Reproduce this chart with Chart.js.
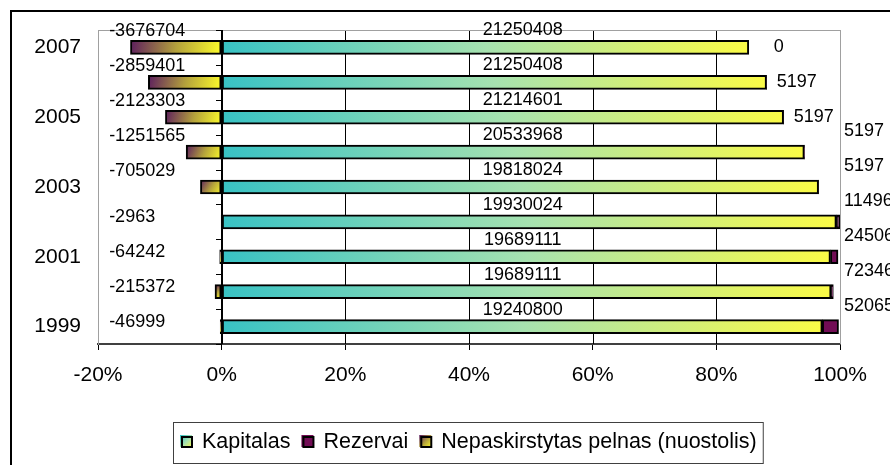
<!DOCTYPE html>
<html>
<head>
<meta charset="utf-8">
<script src="https://cdn.jsdelivr.net/npm/chart.js@4.4.1/dist/chart.umd.min.js"></script>
<style>
  html, body { margin: 0; padding: 0; background: #fff; }
  #grafico_local { width: 890px; height: 465px; position: relative; }
</style>
</head>
<body>
<div id="grafico_local"><canvas id="grafico_balansas"></canvas></div>
<script>
// dados do gráfico
const metai = ['1999', '2000', '2001', '2002', '2003', '2004', '2005', '2006', '2007']
const kapitalas = [19240800, 19689111, 19689111, 19930024, 19818024, 20533968, 21214601, 21250408, 21250408]
const rezervai = [520657, 72346, 245062, 114965, 5197, 5197, 5197, 5197, 0]
const pelnas = [-46999, -215372, -64242, -2963, -705029, -1251565, -2123303, -2859401, -3676704]
const serijos = ['Kapitalas', 'Rezervai', 'Nepaskirstytas pelnas (nuostolis)']
const escalaX = { min: -20, max: 100, passo: 20 }

// 100% empilhado (como no excel: soma dos valores absolutos)
const somas = metai.map((m, i) => Math.abs(kapitalas[i]) + Math.abs(rezervai[i]) + Math.abs(pelnas[i]))
const porcento = arr => arr.map((v, i) => v / somas[i] * 100)
const kapitalasPct = porcento(kapitalas)
const rezervaiPct = porcento(rezervai)
const pelnasPct = porcento(pelnas)

const fonte = "'Liberation Sans', Arial, sans-serif"
const coresKapitalas = ['#38c2c4', '#a6e2b0', '#fbfb46']
const coresPelnas = ['#5c1d5e', '#b4a23c', '#ffff2a']
const corRezervai = '#720c55'
const espessura = 14

function gradienteBarra(ctx, cores, fallback) {
    const chart = ctx.chart
    if (ctx.type !== 'data' || !chart.chartArea || !chart.scales.x) return fallback
    const x = chart.scales.x
    const y = chart.scales.y
    const xa = x.getPixelForValue(0)
    const xb = x.getPixelForValue(ctx.raw)
    const yc = y.getPixelForValue(ctx.dataIndex)
    const esq = Math.min(xa, xb), dir = Math.max(xa, xb)
    const g = chart.ctx.createLinearGradient(esq, yc - 7, dir + 1, yc + 7)
    g.addColorStop(0, cores[0])
    g.addColorStop(0.5, cores[1])
    g.addColorStop(1, cores[2])
    return g
}

// grade vertical em pedaços, pulando onde há barra (fica "atrás" das barras)
function desenharGrade(chart) {
    const { ctx, chartArea } = chart
    const x = chart.scales.x
    const y = chart.scales.y
    const topo = Math.round(chartArea.top)
    const fundo = Math.round(chartArea.bottom)
    x.ticks.forEach(t => {
        const v = t.value
        if (v === 0) return
        const px = Math.round(x.getPixelForValue(v))
        const cinza = v === escalaX.min || v === escalaX.max
        ctx.fillStyle = cinza ? '#a0a0a0' : '#000000'
        const pulos = []
        if (!cinza) {
            metai.forEach((m, i) => {
                const lo = pelnasPct[i]
                const hi = kapitalasPct[i] + rezervaiPct[i]
                if (v >= lo && v <= hi) {
                    const yc = y.getPixelForValue(i)
                    pulos.push([Math.round(yc - espessura / 2), Math.round(yc + espessura / 2)])
                }
            })
        }
        pulos.sort((a, b) => a[0] - b[0])
        let inicio = topo
        pulos.forEach(p => {
            if (p[0] > inicio) ctx.fillRect(px, inicio, 1, p[0] - inicio)
            inicio = Math.max(inicio, p[1])
        })
        if (fundo > inicio) ctx.fillRect(px, inicio, 1, fundo - inicio)
    })
    ctx.fillStyle = '#a0a0a0'
    ctx.fillRect(Math.round(chartArea.left), topo, Math.round(chartArea.width) + 1, 1)
}

// rótulos, linha do zero, moldura e legenda
const desenhosExtras = {
    id: 'desenhosExtras',
    afterDraw(chart) {
        const { ctx, chartArea } = chart
        const x = chart.scales.x
        const y = chart.scales.y
        ctx.save()
        desenharGrade(chart)
        const x0 = Math.round(x.getPixelForValue(0))
        // linha do zero com marcas
        ctx.fillStyle = '#000'
        ctx.fillRect(x0 - 1, Math.round(chartArea.top), 2, Math.round(chartArea.height))
        for (let k = 0; k <= metai.length; k++) {
            const yy = Math.round(y.getPixelForValue(k - 0.5))
            ctx.fillRect(x0 - 6, yy, 6, 1)
        }
        // valores
        ctx.font = '18px ' + fonte
        ctx.textBaseline = 'middle'
        for (let i = 0; i < metai.length; i++) {
            const yc = y.getPixelForValue(i)
            ctx.textAlign = 'center'
            ctx.fillText(String(kapitalas[i]), x.getPixelForValue(48.7), yc - 17)
            ctx.textAlign = 'left'
            ctx.fillText(String(pelnas[i]), x.getPixelForValue(-18.2), Math.abs(pelnasPct[i]) > 2 ? yc - 16 : yc - 5)
            const txt = String(rezervai[i])
            const fim = x.getPixelForValue(kapitalasPct[i] + rezervaiPct[i])
            const w = ctx.measureText(txt).width
            if (fim + 30 + w / 2 < chartArea.right) {
                ctx.textAlign = 'center'
                ctx.fillText(txt, fim + 30, yc)
            } else {
                ctx.textAlign = 'left'
                ctx.fillText(txt, chartArea.right + 4, yc - 21)
            }
        }
        // moldura externa
        ctx.fillStyle = '#000'
        ctx.fillRect(10, 10, 2, chart.height)
        ctx.fillRect(10, 10, chart.width, 2)
        // legenda
        ctx.font = '21.5px ' + fonte
        ctx.textBaseline = 'middle'
        ctx.textAlign = 'left'
        const caixa = 12, gap = 10, entre = 11
        const larguras = serijos.map(s => ctx.measureText(s).width)
        let total = 0
        larguras.forEach(w => { total += caixa + gap + w })
        total += entre * (serijos.length - 1)
        const cx = (chartArea.left + chartArea.right) / 2 - 1
        const ly = 442
        let lx = Math.round(cx - total / 2)
        ctx.strokeStyle = '#404040'
        ctx.lineWidth = 1
        ctx.strokeRect(lx - 6.5, 422.5, total + 13, 41)
        serijos.forEach((s, k) => {
            let fill
            if (k === 1) {
                fill = corRezervai
            } else {
                const cores = k === 0 ? coresKapitalas : coresPelnas
                fill = ctx.createLinearGradient(lx, ly - 6, lx + caixa, ly + 6)
                fill.addColorStop(0, cores[0])
                fill.addColorStop(0.5, cores[1])
                fill.addColorStop(1, cores[2])
            }
            ctx.fillStyle = fill
            ctx.fillRect(lx, ly - 7, caixa, caixa)
            ctx.strokeStyle = '#000'
            ctx.lineWidth = 2
            ctx.strokeRect(lx + 2, ly - 5, caixa - 2, caixa - 2)
            ctx.fillStyle = '#000'
            ctx.fillText(s, lx + caixa + gap, ly)
            lx += caixa + gap + larguras[k] + entre
        })
        ctx.restore()
    }
}

const grafico = document.getElementById('grafico_balansas')

new Chart(grafico, {
    type: 'bar',
    data: {
        labels: metai,
        datasets: [{
            label: serijos[0],
            data: kapitalasPct,
            backgroundColor: ctx => gradienteBarra(ctx, coresKapitalas, coresKapitalas[1]),
            borderColor: '#000',
            borderWidth: 2,
            borderSkipped: false,
            barThickness: espessura
        }, {
            label: serijos[1],
            data: rezervaiPct,
            backgroundColor: corRezervai,
            borderColor: '#000',
            borderWidth: 2,
            borderSkipped: false,
            barThickness: espessura
        }, {
            label: serijos[2],
            data: pelnasPct,
            backgroundColor: ctx => gradienteBarra(ctx, coresPelnas, coresPelnas[1]),
            borderColor: '#000',
            borderWidth: 2,
            borderSkipped: false,
            barThickness: espessura
        }]
    },
    options: {
        indexAxis: 'y',
        responsive: true,
        maintainAspectRatio: false,
        animation: false,
        layout: { padding: { top: 30, right: 50, left: 0, bottom: 0 } },
        plugins: {
            legend: { display: false },
            tooltip: { enabled: false }
        },
        scales: {
            x: {
                stacked: true,
                min: escalaX.min,
                max: escalaX.max,
                afterFit: scale => { scale.height = 121 },
                ticks: {
                    stepSize: escalaX.passo,
                    color: '#000',
                    padding: 13,
                    font: { size: 21, family: fonte },
                    callback: v => v + '%'
                },
                grid: {
                    color: '#000',
                    lineWidth: 1,
                    tickLength: 6,
                    drawTicks: true,
                    drawOnChartArea: false
                },
                border: { display: true, color: '#404040', width: 2 }
            },
            y: {
                stacked: true,
                reverse: true,
                afterFit: scale => { scale.width = 98 },
                ticks: {
                    autoSkip: false,
                    color: '#000',
                    padding: 17,
                    font: { size: 21, family: fonte },
                    callback: (v, i) => Number(metai[i]) % 2 === 1 ? metai[i] : ''
                },
                grid: { display: false, drawTicks: false },
                border: { display: true, color: '#a0a0a0', width: 1 }
            }
        }
    },
    plugins: [desenhosExtras]
})
</script>
</body>
</html>
